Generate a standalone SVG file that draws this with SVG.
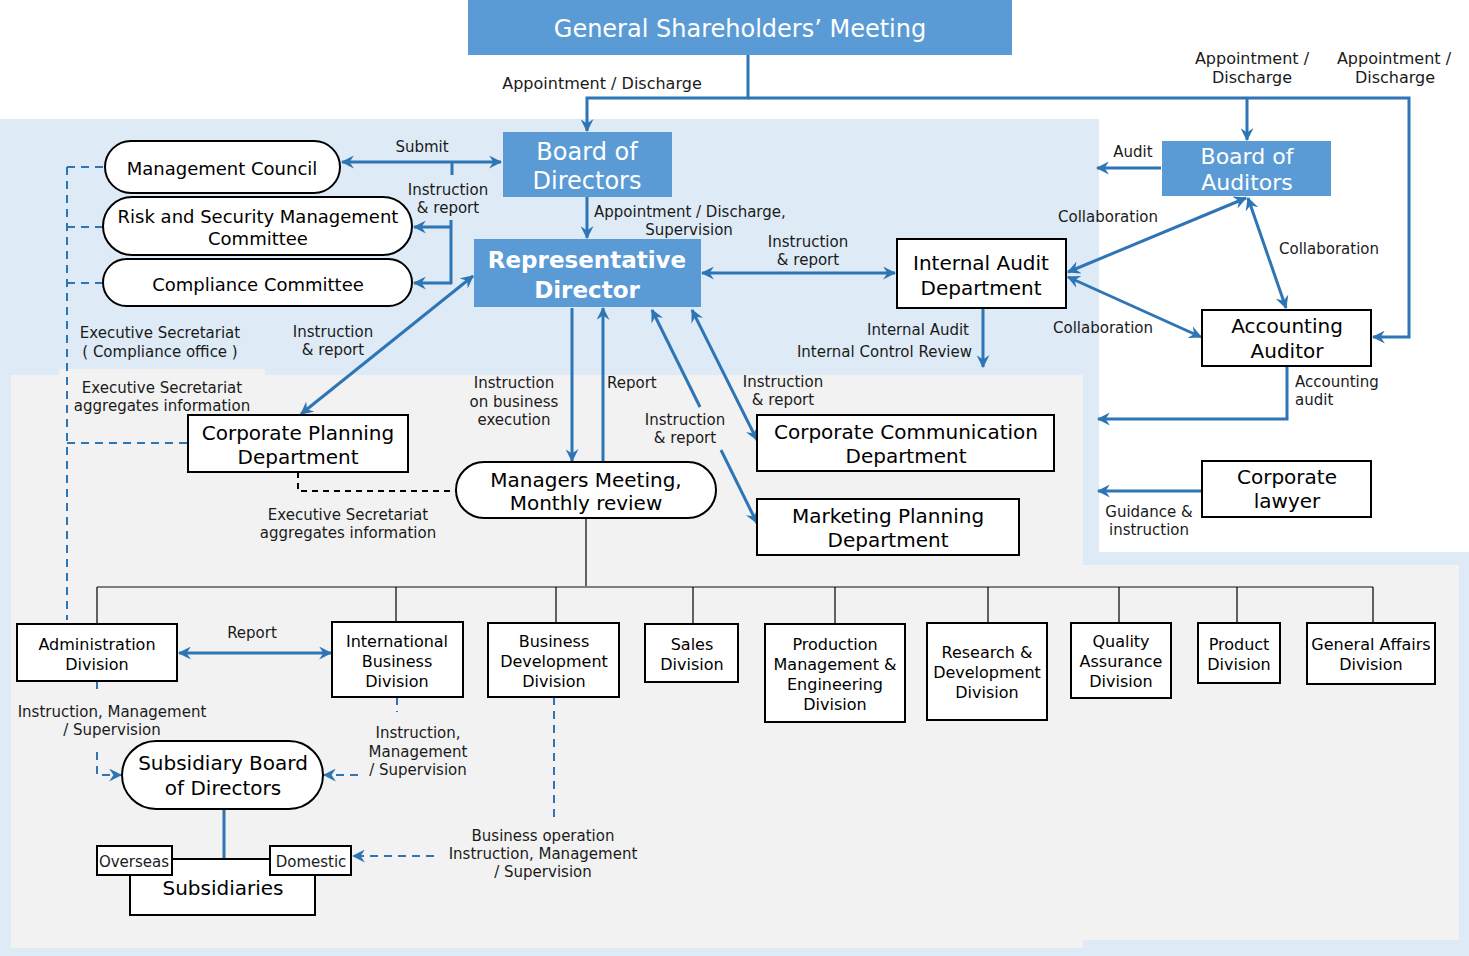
<svg xmlns="http://www.w3.org/2000/svg" width="1469" height="956" viewBox="0 0 1469 956">
<style>
.bg-blue{fill:#deebf7}
.bg-gray{fill:#f2f2f2}
.bluebox{fill:#5b9bd5}
.box{fill:#fff;stroke:#000;stroke-width:2}
.wt{fill:#fff;font-family:"DejaVu Sans",sans-serif;text-anchor:middle}
.nt{fill:#000;font-family:"DejaVu Sans",sans-serif;text-anchor:middle;font-size:20px}
.nt18{font-size:18px}
.dt{fill:#000;font-family:"DejaVu Sans",sans-serif;text-anchor:middle;font-size:16px}
.lb{fill:#1a1a1a;font-family:"DejaVu Sans",sans-serif;text-anchor:middle;font-size:15px}
.lb16{font-size:16px}
.start{text-anchor:start}
.end{text-anchor:end}
.arr{fill:none;stroke:#2e75b6;stroke-width:3}
.dash{fill:none;stroke:#2e75b6;stroke-width:2;stroke-dasharray:8 6}
.kdash{fill:none;stroke:#000;stroke-width:2;stroke-dasharray:6 5}
.bus{fill:none;stroke:#7f7f7f;stroke-width:2}
.drop{fill:none;stroke:#000;stroke-width:1.2}
</style>
<defs>
<marker id="ah" viewBox="0 0 12 12" refX="11" refY="6" markerWidth="13" markerHeight="13" markerUnits="userSpaceOnUse" orient="auto-start-reverse">
<path d="M0,0 L12,6 L0,12 L4,6 z" fill="#2e75b6"/>
</marker>
</defs>
<rect width="1469" height="956" fill="#fff"/>
<g id="backgrounds">
<rect class="bg-blue" x="0" y="119" width="1099" height="837"/>
<rect class="bg-blue" x="1083" y="552" width="386" height="404"/>
<rect class="bg-gray" x="11" y="375" width="1072" height="573"/>
<rect class="bg-gray" x="1083" y="565" width="376" height="375"/>
<rect class="bg-gray" x="59" y="369" width="206" height="8"/>
</g>
<g id="connectors">
<path class="arr" d="M748,55 V98 H587 V131" marker-end="url(#ah)"/>
<path class="arr" d="M748,98 H1409 V337 H1373" marker-end="url(#ah)"/>
<path class="arr" d="M1247,98 V140" marker-end="url(#ah)"/>
<path class="arr" d="M587,197 V238" marker-end="url(#ah)"/>
<path class="arr" d="M342,162 H501" marker-start="url(#ah)" marker-end="url(#ah)"/>
<path class="arr" d="M452,162 V175"/>
<path class="arr" d="M451,220 V284"/>
<path class="arr" d="M452,227 H414" marker-end="url(#ah)"/>
<path class="arr" d="M452,283 H414" marker-end="url(#ah)"/>
<path class="arr" d="M702,273 H895" marker-start="url(#ah)" marker-end="url(#ah)"/>
<path class="arr" d="M1161,168 H1097" marker-end="url(#ah)"/>
<path class="arr" d="M1246,198 L1068,272" marker-start="url(#ah)" marker-end="url(#ah)"/>
<path class="arr" d="M1068,277 L1201,337" marker-start="url(#ah)" marker-end="url(#ah)"/>
<path class="arr" d="M1248,198 L1286,308" marker-start="url(#ah)" marker-end="url(#ah)"/>
<path class="arr" d="M1287,366 V419 H1098" marker-end="url(#ah)"/>
<path class="arr" d="M1202,491 H1098" marker-end="url(#ah)"/>
<path class="arr" d="M983,309 V367" marker-end="url(#ah)"/>
<path class="arr" d="M473,276 L301,414" marker-start="url(#ah)" marker-end="url(#ah)"/>
<path class="arr" d="M572,308 V461" marker-end="url(#ah)"/>
<path class="arr" d="M603,461 V308" marker-end="url(#ah)"/>
<path class="arr" d="M700,407 L652,310" marker-end="url(#ah)"/>
<path class="arr" d="M721,450 L757,523" marker-end="url(#ah)"/>
<path class="arr" d="M692,310 L757,440" marker-start="url(#ah)" marker-end="url(#ah)"/>
<path class="drop" d="M586,518 V587"/>
<path class="bus" d="M97,587 H1373"/>
<path class="drop" d="M97,587 V624 M396,587 V622 M556,587 V623 M693,587 V624 M835,587 V624 M988,587 V623 M1119,587 V623 M1237,587 V623 M1373,587 V623"/>
<path class="arr" d="M179,653 H331" marker-start="url(#ah)" marker-end="url(#ah)"/>
<path class="dash" d="M67,167 V620 M67,167 H105 M67,227 H103 M67,283 H103 M67,443 H188"/>
<path class="kdash" d="M298,472 V491 H456"/>
<path class="dash" d="M97,681 V692"/>
<path class="dash" d="M97,752 V775 H121" marker-end="url(#ah)"/>
<path class="dash" d="M397,697 V712"/>
<path class="dash" d="M358,775 H324" marker-end="url(#ah)"/>
<path class="dash" d="M554,697 V817"/>
<path class="dash" d="M434,856 H353" marker-end="url(#ah)"/>
<path class="arr" d="M224,809 V859"/>
</g>
<g id="gsm"><rect class="bluebox" x="468" y="0" width="544" height="55"/><text class="wt" x="740" y="37" font-size="24">General Shareholders’ Meeting</text></g>
<g id="board-of-directors"><rect class="bluebox" x="503" y="132" width="169" height="65"/><text class="wt" x="587" y="160" font-size="24">Board of</text><text class="wt" x="587" y="189" font-size="24">Directors</text></g>
<g id="representative-director"><rect class="bluebox" x="474" y="239" width="227" height="68"/><text class="wt" x="587" y="268" font-size="23" font-weight="bold">Representative</text><text class="wt" x="587" y="298" font-size="23" font-weight="bold">Director</text></g>
<g id="board-of-auditors"><rect class="bluebox" x="1162" y="141" width="169" height="55"/><text class="wt" x="1247" y="164" font-size="22">Board of</text><text class="wt" x="1247" y="190" font-size="22">Auditors</text></g>
<g id="internal-audit"><rect class="box" x="897" y="239" width="169" height="69"/><text class="nt" x="981" y="270">Internal Audit</text><text class="nt" x="981" y="295">Department</text></g>
<g id="accounting-auditor"><rect class="box" x="1202" y="310" width="169" height="56"/><text class="nt" x="1287" y="333">Accounting</text><text class="nt" x="1287" y="358">Auditor</text></g>
<g id="corporate-lawyer"><rect class="box" x="1202" y="461" width="169" height="56"/><text class="nt" x="1287" y="484">Corporate</text><text class="nt" x="1287" y="508">lawyer</text></g>
<g id="management-council"><rect class="box" x="105" y="141" width="235" height="52" rx="26"/><text class="nt nt18" x="222" y="175">Management Council</text></g>
<g id="risk-security"><rect class="box" x="103" y="197" width="309" height="58" rx="29"/><text class="nt nt18" x="258" y="223">Risk and Security Management</text><text class="nt nt18" x="258" y="245">Committee</text></g>
<g id="compliance-committee"><rect class="box" x="103" y="259" width="309" height="47" rx="23.5"/><text class="nt nt18" x="258" y="291">Compliance Committee</text></g>
<g id="corporate-planning"><rect class="box" x="188" y="415" width="220" height="57"/><text class="nt" x="298" y="440">Corporate Planning</text><text class="nt" x="298" y="464">Department</text></g>
<g id="managers-meeting"><rect class="box" x="456" y="462" width="260" height="56" rx="28"/><text class="nt" x="586" y="487">Managers Meeting,</text><text class="nt" x="586" y="510">Monthly review</text></g>
<g id="corporate-communication"><rect class="box" x="757" y="415" width="297" height="56"/><text class="nt" x="906" y="439">Corporate Communication</text><text class="nt" x="906" y="463">Department</text></g>
<g id="marketing-planning"><rect class="box" x="757" y="499" width="262" height="56"/><text class="nt" x="888" y="523">Marketing Planning</text><text class="nt" x="888" y="547">Department</text></g>
<g id="administration"><rect class="box" x="17" y="624" width="160" height="57"/><text class="dt" x="97" y="650">Administration</text><text class="dt" x="97" y="670">Division</text></g>
<g id="international-business"><rect class="box" x="332" y="622" width="131" height="75"/><text class="dt" x="397" y="647">International</text><text class="dt" x="397" y="667">Business</text><text class="dt" x="397" y="687">Division</text></g>
<g id="business-development"><rect class="box" x="488" y="623" width="131" height="74"/><text class="dt" x="554" y="647">Business</text><text class="dt" x="554" y="667">Development</text><text class="dt" x="554" y="687">Division</text></g>
<g id="sales"><rect class="box" x="645" y="624" width="93" height="58"/><text class="dt" x="692" y="650">Sales</text><text class="dt" x="692" y="670">Division</text></g>
<g id="production"><rect class="box" x="765" y="624" width="140" height="98"/><text class="dt" x="835" y="650">Production</text><text class="dt" x="835" y="670">Management &amp;</text><text class="dt" x="835" y="690">Engineering</text><text class="dt" x="835" y="710">Division</text></g>
<g id="research"><rect class="box" x="927" y="623" width="120" height="97"/><text class="dt" x="987" y="658">Research &amp;</text><text class="dt" x="987" y="678">Development</text><text class="dt" x="987" y="698">Division</text></g>
<g id="quality"><rect class="box" x="1071" y="623" width="100" height="75"/><text class="dt" x="1121" y="647">Quality</text><text class="dt" x="1121" y="667">Assurance</text><text class="dt" x="1121" y="687">Division</text></g>
<g id="product"><rect class="box" x="1198" y="623" width="82" height="60"/><text class="dt" x="1239" y="650">Product</text><text class="dt" x="1239" y="670">Division</text></g>
<g id="general-affairs"><rect class="box" x="1307" y="623" width="128" height="61"/><text class="dt" x="1371" y="650">General Affairs</text><text class="dt" x="1371" y="670">Division</text></g>
<g id="subsidiary-board"><rect class="box" x="122" y="741" width="201" height="68" rx="34"/><text class="nt" x="223" y="770">Subsidiary Board</text><text class="nt" x="223" y="795">of Directors</text></g>
<g id="subsidiaries"><rect class="box" x="130" y="859" width="185" height="56"/><text class="nt" x="223" y="895">Subsidiaries</text>
<rect class="box" x="97" y="846" width="75" height="29"/><text class="lb" x="134" y="867" font-size="14" fill="#000">Overseas</text>
<rect class="box" x="270" y="846" width="81" height="29"/><text class="lb" x="311" y="867" font-size="14" fill="#000">Domestic</text></g>
<g id="labels">
<text class="lb lb16" x="602" y="89">Appointment / Discharge</text>
<text class="lb lb16" x="1252" y="64">Appointment /</text><text class="lb lb16" x="1252" y="83">Discharge</text>
<text class="lb lb16" x="1394" y="64">Appointment /</text><text class="lb lb16" x="1395" y="83">Discharge</text>
<text class="lb" x="422" y="152">Submit</text>
<text class="lb" x="448" y="195">Instruction</text><text class="lb" x="448" y="213">&amp; report</text>
<text class="lb start" x="594" y="217">Appointment / Discharge,</text><text class="lb" x="689" y="235">Supervision</text>
<text class="lb" x="808" y="247">Instruction</text><text class="lb" x="808" y="265">&amp; report</text>
<text class="lb" x="1133" y="157">Audit</text>
<text class="lb" x="1108" y="222">Collaboration</text>
<text class="lb" x="1329" y="254">Collaboration</text>
<text class="lb" x="1103" y="333">Collaboration</text>
<text class="lb start" x="1295" y="387">Accounting</text><text class="lb start" x="1295" y="405">audit</text>
<text class="lb" x="1149" y="517">Guidance &amp;</text><text class="lb" x="1149" y="535">instruction</text>
<text class="lb end" x="969" y="335">Internal Audit</text><text class="lb end" x="972" y="357">Internal Control Review</text>
<text class="lb" x="160" y="338">Executive Secretariat</text><text class="lb" x="160" y="357">( Compliance office )</text>
<text class="lb" x="333" y="337">Instruction</text><text class="lb" x="333" y="355">&amp; report</text>
<text class="lb" x="162" y="393">Executive Secretariat</text><text class="lb" x="162" y="411">aggregates information</text>
<text class="lb" x="514" y="388">Instruction</text><text class="lb" x="514" y="407">on business</text><text class="lb" x="514" y="425">execution</text>
<text class="lb start" x="607" y="388">Report</text>
<text class="lb" x="685" y="425">Instruction</text><text class="lb" x="685" y="443">&amp; report</text>
<text class="lb" x="783" y="387">Instruction</text><text class="lb" x="783" y="405">&amp; report</text>
<text class="lb" x="348" y="520">Executive Secretariat</text><text class="lb" x="348" y="538">aggregates information</text>
<text class="lb" x="252" y="638">Report</text>
<text class="lb" x="112" y="717">Instruction, Management</text><text class="lb" x="112" y="735">/ Supervision</text>
<text class="lb" x="418" y="738">Instruction,</text><text class="lb" x="418" y="757">Management</text><text class="lb" x="418" y="775">/ Supervision</text>
<text class="lb" x="543" y="841">Business operation</text><text class="lb" x="543" y="859">Instruction, Management</text><text class="lb" x="543" y="877">/ Supervision</text>
</g>
</svg>
